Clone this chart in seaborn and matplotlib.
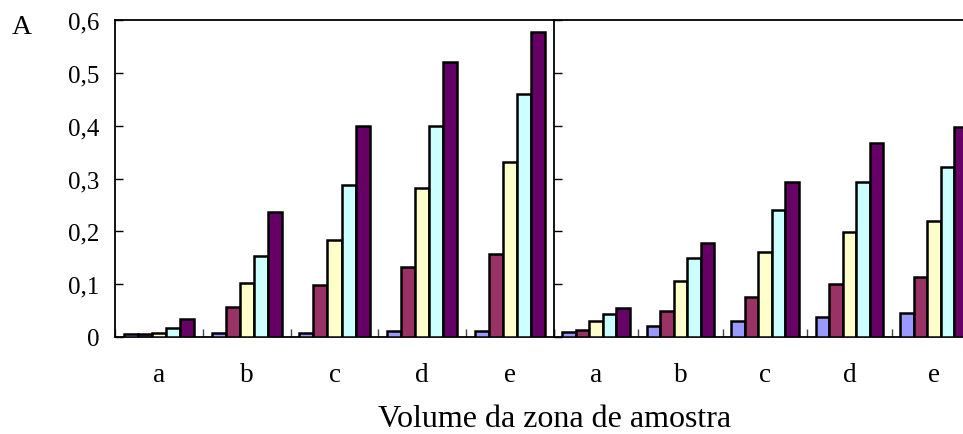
import matplotlib
matplotlib.use("Agg")
import matplotlib.pyplot as plt
import numpy as np
import pandas as pd
import seaborn as sns
from matplotlib.ticker import FixedLocator, FuncFormatter

# Sample zone volume categories and the five measured series
groups = ["a", "b", "c", "d", "e"]
series = ["série 1", "série 2", "série 3", "série 4", "série 5"]
colors = ["#9999FF", "#993366", "#FFFFCC", "#CCFFFF", "#660066"]

# Values per group (one entry per series), left and right panels
left_values = [
    [0.005, 0.005, 0.008, 0.017, 0.034],
    [0.008, 0.057, 0.103, 0.153, 0.237],
    [0.008, 0.098, 0.184, 0.288, 0.400],
    [0.012, 0.133, 0.282, 0.400, 0.521],
    [0.012, 0.157, 0.332, 0.459, 0.578],
]
right_values = [
    [0.010, 0.013, 0.031, 0.044, 0.055],
    [0.021, 0.049, 0.106, 0.149, 0.177],
    [0.031, 0.075, 0.161, 0.240, 0.293],
    [0.037, 0.101, 0.198, 0.294, 0.367],
    [0.046, 0.113, 0.220, 0.321, 0.397],
]
y_ticks = [0.0, 0.1, 0.2, 0.3, 0.4, 0.5, 0.6]


def to_long(values):
    rows = []
    for g, vals in zip(groups, values):
        for s, v in zip(series, vals):
            rows.append({"grupo": g, "serie": s, "valor": v})
    return pd.DataFrame(rows)


sns.set_style("white")
plt.rcParams["font.family"] = ["Liberation Serif", "DejaVu Serif"]
plt.rcParams["text.color"] = "black"
plt.rcParams["xtick.color"] = "black"
plt.rcParams["ytick.color"] = "black"

W, H = 963, 435
fig = plt.figure(figsize=(W / 100, H / 100), dpi=100)

top_px, bot_px = 21, 338
ax1 = fig.add_axes([115 / W, 1 - bot_px / H, 439 / W, (bot_px - top_px) / H])
ax2 = fig.add_axes([554 / W, 1 - bot_px / H, 422 / W, (bot_px - top_px) / H])

comma = FuncFormatter(lambda v, p: "0" if abs(v) < 1e-9 else f"{v:.1f}".replace(".", ","))

for ax, vals in ((ax1, left_values), (ax2, right_values)):
    sns.barplot(data=to_long(vals), x="grupo", y="valor", hue="serie",
                hue_order=series, palette=colors, order=groups,
                width=0.8, saturation=1, edgecolor="black", linewidth=1.8,
                legend=False, ax=ax, zorder=3)
    ax.set_xlim(-0.5, 4.5)
    ax.set_ylim(0, 0.6)
    ax.set_xlabel("")
    ax.set_ylabel("")
    ax.set_facecolor("none")
    for side in ("left", "top", "bottom"):
        ax.spines[side].set_visible(True)
        ax.spines[side].set_color("black")
        ax.spines[side].set_linewidth(1.3)
    ax.spines["right"].set_visible(False)
    # labels at group centres, small marks between groups
    ax.xaxis.set_major_locator(FixedLocator(range(len(groups))))
    ax.set_xticklabels(groups)
    ax.xaxis.set_minor_locator(FixedLocator(np.arange(-0.5, 5, 1.0)))
    ax.tick_params(axis="x", which="major", length=0, pad=18, labelsize=19.5,
                   labelcolor="black")
    ax.tick_params(axis="x", which="minor", direction="in", length=6,
                   width=1.0, color="#444444", bottom=True)
    ax.yaxis.set_major_locator(FixedLocator(y_ticks))
    ax.yaxis.set_major_formatter(comma)
    ax.tick_params(axis="y", direction="in", length=6, width=1.0,
                   left=True, labelsize=18, pad=11, labelcolor="black")

ax2.tick_params(axis="y", labelleft=False)

fig.text(555 / W, 1 - 420 / H, "Volume da zona de amostra",
         ha="center", va="center", fontsize=23)
fig.text(22 / W, 1 - 27 / H, "A", ha="center", va="center", fontsize=20)

fig.savefig("out.png", dpi=100)
